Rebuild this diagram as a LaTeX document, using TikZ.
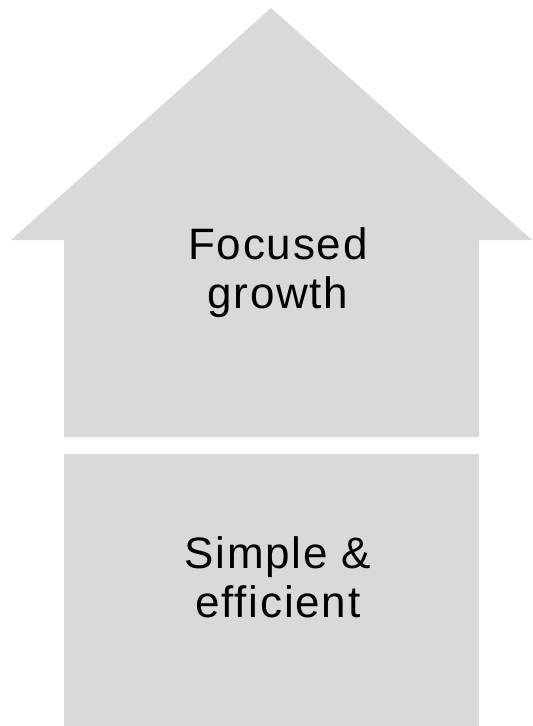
\documentclass[tikz,border=0pt]{standalone}
\usepackage{fontspec}
\setmainfont{Liberation Sans}[LetterSpace=4, Ligatures=NoCommon]
\definecolor{housefill}{RGB}{217, 217, 217}
\tikzset{
    every node/.style={transform shape},
    houseblock/.style={fill=housefill, draw=none},
    houselabel/.style={align=center, font=\fontsize{44}{49}\selectfont},
}

\begin{document}
\begin{tikzpicture}[x=1pt, y=-1pt]
        \useasboundingbox (0, 0) rectangle (533, 726);
        \coordinate (apex) at (271, 8);
        \coordinate (lefteave) at (11, 240);
        \coordinate (righteave) at (532, 240);
        % roof and upper floor
        \fill[houseblock] (lefteave) -- (apex) -- (righteave) -- (479, 240)
            -- (479, 437) -- (64, 437) -- (64, 240) -- cycle;
        % ground floor
        \fill[houseblock] (64, 454) rectangle (479, 726);
        \node[houselabel] (growth) at (278, 273) {Focused\\growth};
        \node[houselabel] (simple) at (278, 577) {Simple \&\\efficient};
    \end{tikzpicture}
\end{document}
